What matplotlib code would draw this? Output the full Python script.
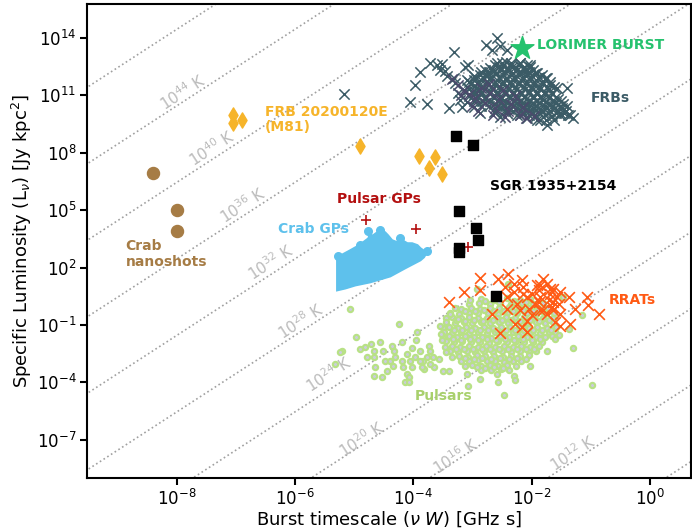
import numpy as np
import matplotlib.pyplot as plt

# all values as log10:
# burst timescale nu*W [GHz s] and specific luminosity L_nu [Jy kpc^2]
lorimer_w = [-2.16]
lorimer_L = [13.48]

nano_w = [-8.40, -8.00, -8.00]
nano_L = [6.94, 5.00, 3.92]

m81_w = [-7.06, -7.06, -6.90, -4.90, -3.91, -3.64, -3.74, -3.51]
m81_L = [9.98, 9.58, 9.72, 8.36, 7.82, 7.76, 7.19, 6.90]

sgr_w = [-3.27, -2.99, -3.22, -2.94, -2.90, -3.22, -3.22, -2.60]
sgr_L = [8.90, 8.42, 4.96, 4.07, 3.44, 3.00, 2.82, 0.51]

gp_w = [-4.80, -3.95, -3.08]
gp_L = [4.49, 4.02, 3.05]

# outline of the dense Crab giant pulse cloud, plus a few stragglers on its edge
crab_w = [-5.29, -5.29, -5.19, -5.07, -4.95, -4.85, -4.76, -4.73, -4.70, -4.63, -4.56, -4.48,
          -4.43, -4.36, -4.27, -4.19, -4.10, -4.02, -3.93, -3.88, -3.83, -3.77, -3.82, -3.88,
          -4.14, -4.39, -4.73, -4.98, -5.15]
crab_L = [0.81, 2.54, 2.70, 2.90, 3.11, 3.32, 3.53, 3.85, 3.64, 3.80, 3.90, 3.85,
          3.69, 3.43, 3.32, 3.43, 3.27, 3.27, 3.17, 3.01, 2.90, 2.80, 2.54, 2.38,
          1.96, 1.54, 1.23, 1.07, 0.91]
crab_edge_w = [-4.76, -4.56, -4.22, -3.77, -5.27, -4.90]
crab_edge_L = [3.90, 3.95, 3.53, 2.85, 2.60, 3.20]

frbs = [(-5.17, 11.06), (-4.06, 10.68), (-3.77, 10.54), (-3.98, 11.55), (-3.88, 12.20), (-3.39, 10.33),
        (-3.32, 13.25), (-3.12, 12.51), (-3.07, 12.60), (-2.77, 13.61), (-2.59, 13.99), (-2.67, 13.39),
        (-2.53, 13.56), (-2.42, 13.39), (-3.71, 12.69), (-3.60, 12.60), (-3.52, 12.65), (-3.55, 12.34),
        (-3.46, 12.25), (-3.43, 11.99), (-3.32, 11.90), (-3.29, 11.64), (-3.24, 11.12), (-3.21, 10.77),
        (-3.09, 11.81), (-2.98, 11.99), (-2.92, 11.64), (-2.87, 11.29), (-2.76, 11.99), (-2.64, 12.25),
        (-2.59, 12.69), (-2.44, 12.77), (-2.33, 12.51), (-2.19, 12.69), (-2.08, 12.34), (-2.02, 12.60),
        (-1.91, 12.16), (-1.74, 11.90), (-1.57, 11.38), (-1.40, 11.38), (-1.29, 9.81), (-1.35, 9.98),
        (-1.51, 10.07), (-1.74, 9.46), (-1.85, 9.72), (-2.08, 9.81), (-2.25, 9.98), (-2.42, 10.07),
        (-2.53, 9.89), (-2.64, 10.15), (-2.87, 10.07), (-2.98, 10.42), (-3.09, 10.68), (-3.18, 10.42),
        (-2.50, 12.70), (-2.35, 12.72), (-2.20, 12.68),
        (-2.70, 12.45), (-2.55, 12.47), (-2.42, 12.44), (-2.28, 12.46), (-2.15, 12.43), (-2.02, 12.47),
        (-2.85, 12.20), (-2.72, 12.22), (-2.58, 12.19), (-2.45, 12.21), (-2.32, 12.18), (-2.18, 12.22),
        (-2.05, 12.20), (-1.92, 12.19),
        (-2.95, 11.95), (-2.82, 11.97), (-2.68, 11.94), (-2.55, 11.96), (-2.42, 11.93), (-2.29, 11.97),
        (-2.15, 11.95), (-2.02, 11.94), (-1.88, 11.96), (-1.75, 11.93),
        (-3.05, 11.70), (-2.90, 11.72), (-2.76, 11.69), (-2.62, 11.71), (-2.49, 11.68), (-2.36, 11.72),
        (-2.22, 11.70), (-2.09, 11.69), (-1.95, 11.71), (-1.82, 11.68), (-1.68, 11.70),
        (-3.10, 11.45), (-2.96, 11.47), (-2.82, 11.44), (-2.68, 11.46), (-2.55, 11.43), (-2.42, 11.47),
        (-2.28, 11.45), (-2.15, 11.44), (-2.01, 11.46), (-1.88, 11.43), (-1.74, 11.45), (-1.62, 11.44),
        (-3.12, 11.20), (-2.98, 11.22), (-2.85, 11.19), (-2.71, 11.21), (-2.58, 11.18), (-2.45, 11.22),
        (-2.31, 11.20), (-2.18, 11.19), (-2.04, 11.21), (-1.91, 11.18), (-1.78, 11.20),
        (-3.05, 10.95), (-2.92, 10.97), (-2.78, 10.94), (-2.65, 10.96), (-2.52, 10.93), (-2.38, 10.97),
        (-2.25, 10.95), (-2.12, 10.94), (-1.98, 10.96), (-1.85, 10.93), (-1.72, 10.95), (-1.58, 10.94),
        (-2.98, 10.70), (-2.84, 10.72), (-2.70, 10.69), (-2.57, 10.71), (-2.44, 10.68), (-2.30, 10.72),
        (-2.17, 10.70), (-2.03, 10.69), (-1.90, 10.71), (-1.76, 10.68), (-1.62, 10.70), (-1.50, 10.69),
        (-2.85, 10.45), (-2.72, 10.47), (-2.58, 10.44), (-2.45, 10.46), (-2.31, 10.43), (-2.18, 10.47),
        (-2.05, 10.45), (-1.92, 10.44), (-1.78, 10.46), (-1.65, 10.43), (-1.52, 10.45), (-1.40, 10.44),
        (-2.60, 10.20), (-2.45, 10.22), (-2.32, 10.19), (-2.18, 10.21), (-2.05, 10.18), (-1.92, 10.22),
        (-1.80, 10.20), (-1.68, 10.19), (-1.55, 10.21), (-1.42, 10.18),
        (-2.20, 9.95), (-2.05, 9.97), (-1.92, 9.94), (-1.78, 9.96), (-1.65, 9.93), (-1.52, 9.97),
        (-1.38, 9.95), (-1.90, 9.70), (-1.75, 9.72), (-1.62, 9.69),
        # denser middle of the cloud
        (-2.62, 12.58), (-2.48, 12.56), (-2.35, 12.60), (-2.22, 12.57), (-2.08, 12.59),
        (-2.78, 12.33), (-2.65, 12.31), (-2.51, 12.35), (-2.38, 12.32), (-2.25, 12.34), (-2.11, 12.31),
        (-1.98, 12.33),
        (-2.88, 12.08), (-2.75, 12.06), (-2.62, 12.10), (-2.48, 12.07), (-2.35, 12.09), (-2.22, 12.06),
        (-2.08, 12.08), (-1.95, 12.10), (-1.82, 12.07),
        (-2.98, 11.83), (-2.85, 11.81), (-2.72, 11.85), (-2.58, 11.82), (-2.45, 11.84), (-2.32, 11.81),
        (-2.18, 11.83), (-2.05, 11.85), (-1.92, 11.82), (-1.78, 11.84),
        (-3.02, 11.58), (-2.89, 11.56), (-2.75, 11.60), (-2.62, 11.57), (-2.48, 11.59), (-2.35, 11.56),
        (-2.22, 11.58), (-2.08, 11.60), (-1.95, 11.57), (-1.81, 11.59), (-1.68, 11.56),
        (-3.05, 11.33), (-2.91, 11.31), (-2.78, 11.35), (-2.65, 11.32), (-2.51, 11.34), (-2.38, 11.31),
        (-2.25, 11.33), (-2.11, 11.35), (-1.98, 11.32), (-1.85, 11.34), (-1.71, 11.31),
        (-2.98, 11.08), (-2.85, 11.06), (-2.72, 11.10), (-2.58, 11.07), (-2.45, 11.09), (-2.31, 11.06),
        (-2.18, 11.08), (-2.05, 11.10), (-1.91, 11.07), (-1.78, 11.09), (-1.65, 11.06),
        (-2.92, 10.83), (-2.78, 10.81), (-2.64, 10.85), (-2.51, 10.82), (-2.37, 10.84), (-2.24, 10.81),
        (-2.10, 10.83), (-1.97, 10.85), (-1.83, 10.82), (-1.70, 10.84), (-1.56, 10.81),
        (-2.78, 10.58), (-2.64, 10.56), (-2.51, 10.60), (-2.37, 10.57), (-2.24, 10.59), (-2.11, 10.56),
        (-1.98, 10.58), (-1.85, 10.60), (-1.71, 10.57), (-1.58, 10.59), (-1.46, 10.56),
        (-2.52, 10.33), (-2.38, 10.31), (-2.25, 10.35), (-2.12, 10.32), (-1.98, 10.34), (-1.86, 10.31),
        (-1.74, 10.33), (-1.61, 10.35), (-1.48, 10.32),
        (-2.12, 10.08), (-1.98, 10.06), (-1.85, 10.10), (-1.72, 10.07), (-1.58, 10.09), (-1.45, 10.06)]

frbs_chime = [(-3.25, 11.55), (-3.15, 11.30), (-3.05, 11.05), (-2.95, 10.85), (-2.85, 11.40),
              (-2.78, 10.60), (-2.70, 11.10), (-2.62, 10.35), (-2.55, 10.80), (-2.48, 11.30),
              (-2.40, 10.20), (-2.35, 10.55), (-2.28, 10.95), (-2.20, 10.00), (-2.15, 10.40),
              (-3.35, 11.85), (-3.00, 10.45), (-2.90, 10.20), (-2.65, 9.95), (-2.45, 9.85),
              (-3.20, 11.00), (-2.10, 9.80), (-1.95, 9.90), (-2.72, 11.60)]

rrats = [(-2.87, 1.47), (-2.56, 1.42), (-2.39, 1.68), (-3.14, 0.72), (-2.87, 0.81), (-3.39, 0.20),
         (-2.67, -0.42), (-2.54, -1.43), (-2.45, 0.98), (-2.30, 1.16), (-2.30, 0.72), (-2.16, 1.33),
         (-2.15, 0.98), (-2.15, 0.63), (-2.25, 0.11), (-2.08, 0.46), (-2.05, -0.15), (-2.19, -0.24),
         (-2.28, -0.94), (-2.16, -1.11), (-2.08, -1.38), (-2.07, -0.77), (-1.99, -0.50), (-1.94, 0.11),
         (-1.88, 0.81), (-1.85, 1.07), (-1.80, 1.42), (-1.74, 1.16), (-1.68, 0.90), (-1.85, 0.46),
         (-1.86, -0.24), (-1.80, -0.24), (-1.71, 0.28), (-1.68, 0.63), (-1.66, -0.07), (-1.63, -0.24),
         (-1.57, 0.46), (-1.52, 0.72), (-1.54, 0.11), (-1.52, -0.42), (-1.60, -0.85), (-1.52, -1.03),
         (-1.37, 0.46), (-1.35, -0.94), (-1.26, -0.15), (-1.06, 0.46), (-1.04, 0.02), (-0.85, -0.42),
         (-1.91, 1.07), (-1.63, 0.90), (-1.63, 0.20), (-1.88, 0.20), (-1.74, -0.42), (-1.99, 0.63),
         (-2.42, 0.46), (-2.42, -0.15)]

pulsars = [(-2.86, 0.38), (-2.63, 0.31), (-2.41, 0.40), (-2.19, 0.33), (-2.02, 0.36),
           (-3.06, 0.10), (-2.89, 0.15), (-2.71, 0.08), (-2.53, 0.14), (-2.34, 0.09), (-2.16, 0.13),
           (-1.98, 0.10), (-1.81, 0.15),
           (-3.19, -0.14), (-3.03, -0.09), (-2.88, -0.15), (-2.71, -0.10), (-2.55, -0.13), (-2.38, -0.08),
           (-2.22, -0.14), (-2.05, -0.10), (-1.89, -0.15), (-1.72, -0.09), (-3.30, -0.12),
           (-3.38, -0.36), (-3.22, -0.41), (-3.06, -0.35), (-2.90, -0.40), (-2.74, -0.37), (-2.57, -0.42),
           (-2.41, -0.35), (-2.25, -0.39), (-2.08, -0.36), (-1.92, -0.41), (-1.75, -0.37), (-1.62, -0.40),
           (-3.34, -0.60), (-3.20, -0.65), (-3.05, -0.59), (-2.90, -0.64), (-2.75, -0.61), (-2.59, -0.66),
           (-2.43, -0.60), (-2.28, -0.63), (-2.12, -0.59), (-1.96, -0.65), (-1.80, -0.61), (-1.64, -0.64),
           (-3.45, -0.66),
           (-3.44, -0.86), (-3.30, -0.91), (-3.15, -0.85), (-3.00, -0.90), (-2.86, -0.87), (-2.70, -0.92),
           (-2.55, -0.85), (-2.40, -0.89), (-2.24, -0.86), (-2.09, -0.91), (-1.93, -0.87), (-1.78, -0.90),
           (-1.63, -0.86),
           (-3.39, -1.10), (-3.25, -1.15), (-3.11, -1.09), (-2.96, -1.14), (-2.81, -1.11), (-2.66, -1.16),
           (-2.51, -1.10), (-2.36, -1.13), (-2.21, -1.09), (-2.05, -1.15), (-1.90, -1.11), (-1.74, -1.14),
           (-1.59, -1.10), (-3.49, -1.16),
           (-3.48, -1.36), (-3.35, -1.41), (-3.20, -1.35), (-3.05, -1.40), (-2.91, -1.37), (-2.76, -1.42),
           (-2.61, -1.36), (-2.46, -1.39), (-2.31, -1.35), (-2.16, -1.41), (-2.01, -1.37), (-1.86, -1.40),
           (-1.71, -1.36), (-1.60, -1.39),
           (-3.40, -1.60), (-3.26, -1.65), (-3.12, -1.59), (-2.97, -1.64), (-2.83, -1.61), (-2.68, -1.66),
           (-2.53, -1.60), (-2.38, -1.63), (-2.23, -1.59), (-2.08, -1.65), (-1.93, -1.61), (-1.78, -1.64),
           (-1.66, -1.60), (-3.50, -1.66),
           (-3.45, -1.86), (-3.31, -1.91), (-3.17, -1.85), (-3.02, -1.90), (-2.87, -1.87), (-2.72, -1.92),
           (-2.57, -1.86), (-2.42, -1.89), (-2.27, -1.85), (-2.12, -1.91), (-1.97, -1.87), (-1.82, -1.90),
           (-3.35, -2.10), (-3.21, -2.15), (-3.06, -2.09), (-2.91, -2.14), (-2.77, -2.11), (-2.62, -2.16),
           (-2.47, -2.10), (-2.32, -2.13), (-2.17, -2.09), (-2.02, -2.15), (-1.87, -2.11), (-3.46, -2.16),
           (-3.38, -2.36), (-3.24, -2.41), (-3.09, -2.35), (-2.95, -2.40), (-2.80, -2.37), (-2.65, -2.42),
           (-2.50, -2.36), (-2.35, -2.39), (-2.20, -2.35), (-2.05, -2.41), (-1.92, -2.37),
           (-3.23, -2.60), (-3.08, -2.65), (-2.93, -2.59), (-2.79, -2.64), (-2.64, -2.61), (-2.49, -2.66),
           (-2.34, -2.60), (-2.19, -2.63), (-2.04, -2.59), (-3.34, -2.66),
           (-3.20, -2.86), (-3.05, -2.91), (-2.90, -2.85), (-2.76, -2.90), (-2.61, -2.87), (-2.46, -2.92),
           (-2.31, -2.86), (-2.17, -2.89),
           (-3.01, -3.10), (-2.86, -3.15), (-2.71, -3.09), (-2.56, -3.14), (-2.41, -3.11), (-2.27, -3.13),
           (-3.12, -3.15),
           (-2.85, -3.33), (-2.68, -3.38), (-2.52, -3.32), (-2.38, -3.36),
           # in-between fill of the dense core
           (-2.78, 0.25), (-2.55, 0.22), (-2.30, 0.24), (-2.10, 0.22),
           (-3.12, -0.25), (-2.96, -0.27), (-2.80, -0.24), (-2.63, -0.28), (-2.47, -0.25), (-2.31, -0.26),
           (-2.15, -0.24), (-1.98, -0.28), (-1.83, -0.25),
           (-3.27, -0.75), (-3.12, -0.77), (-2.97, -0.74), (-2.82, -0.78), (-2.66, -0.75), (-2.50, -0.76),
           (-2.35, -0.74), (-2.19, -0.78), (-2.03, -0.75), (-1.87, -0.77), (-1.71, -0.74),
           (-3.32, -1.25), (-3.18, -1.27), (-3.03, -1.24), (-2.88, -1.28), (-2.73, -1.25), (-2.58, -1.26),
           (-2.43, -1.24), (-2.28, -1.28), (-2.13, -1.25), (-1.97, -1.27), (-1.82, -1.24), (-1.67, -1.26),
           (-3.33, -1.75), (-3.19, -1.77), (-3.04, -1.74), (-2.90, -1.78), (-2.75, -1.75), (-2.60, -1.76),
           (-2.45, -1.74), (-2.30, -1.78), (-2.15, -1.75), (-2.00, -1.77), (-1.85, -1.74),
           (-3.28, -2.25), (-3.14, -2.27), (-2.99, -2.24), (-2.84, -2.28), (-2.70, -2.25), (-2.55, -2.26),
           (-2.40, -2.24), (-2.25, -2.28), (-2.10, -2.25), (-1.96, -2.27),
           (-3.12, -2.75), (-2.98, -2.77), (-2.83, -2.74), (-2.68, -2.78), (-2.53, -2.75), (-2.38, -2.76),
           (-2.24, -2.74), (-2.10, -2.77),
           (-2.93, -3.22), (-2.78, -3.24), (-2.63, -3.21), (-2.48, -3.25),
           # sparse tail and outliers
           (-5.07, -0.15), (-4.24, -0.94), (-4.97, -1.64), (-5.21, -2.37), (-4.81, -2.13), (-4.71, -1.99),
           (-4.56, -1.88), (-4.67, -2.37), (-4.67, -2.69), (-4.65, -3.18), (-4.67, -3.65), (-4.53, -3.70),
           (-4.48, -2.90), (-4.45, -3.39), (-4.36, -2.08), (-4.32, -2.34), (-4.31, -2.69), (-4.34, -3.12),
           (-4.19, -1.87), (-4.19, -2.86), (-4.17, -3.21), (-4.11, -3.56), (-4.08, -3.74), (-4.14, -4.00),
           (-4.08, -4.00), (-4.05, -2.86), (-4.02, -3.18), (-3.97, -2.69), (-3.95, -1.81), (-3.94, -1.38),
           (-3.88, -2.37), (-3.83, -2.86), (-3.82, -3.30), (-3.77, -2.69), (-3.74, -2.08), (-3.71, -2.34),
           (-3.66, -2.69), (-3.65, -3.21), (-3.57, -2.77), (-3.55, -1.03), (-3.53, -1.46), (-3.52, -1.81),
           (-3.44, -2.42), (-3.49, -3.39), (-3.40, -3.39), (-3.38, -0.42), (-3.24, -0.68), (-3.09, -3.56),
           (-3.08, -4.17), (-3.04, 0.28), (-2.93, 0.90), (-2.88, -3.82), (-2.59, -3.56), (-2.56, -4.00),
           (-2.46, -4.64), (-2.39, 1.16), (-2.30, -3.65), (-2.28, -3.87), (-2.02, -3.12), (-1.74, -2.34),
           (-1.60, -1.73), (-1.54, -1.55), (-1.46, 0.46), (-1.37, -1.20), (-1.30, -2.20), (-1.15, -0.50),
           (-0.98, -4.14), (-4.11, -2.51), (-4.02, -2.20), (-3.88, -2.86), (-4.39, -2.86), (-4.52, -2.34),
           (-4.79, -2.69), (-4.90, -2.25), (-3.86, -3.21), (-3.71, -3.04), (-5.24, -2.39), (-5.32, -3.02)]

# brightness temperature lines, log10(T_B / K)
tb_exps = [48, 44, 40, 36, 32, 28, 24, 20, 16, 12, 8]
tb_labels = [44, 40, 36, 32, 28, 24, 20, 16, 12]
tb_label_w = [-7.91, -7.42, -6.89, -6.42, -5.91, -5.44, -4.88, -3.29, -1.31]
tb_label_L = [11.19, 8.25, 5.26, 2.28, -0.81, -3.59, -6.95, -7.84, -7.73]

# T_B = L / (2 k (nu W)^2), L in Jy kpc^2 and nu W in GHz s
kpc = 3.0857e19
tb_const = 1e-26 * kpc**2 / (2 * 1.380649e-23 * 1e18)


def p(v):
    return 10.0 ** np.asarray(v)


fig = plt.figure(figsize=(6.92, 5.29), dpi=100)
ax = fig.add_axes([87 / 692, 51 / 529, 604 / 692, 474 / 529])
ax.set_xscale('log')
ax.set_yscale('log')
ax.set_xlim(3e-10, 5)
ax.set_ylim(1e-9, 6e15)

w_grid = np.logspace(-11, 2, 20)
for e in tb_exps:
    ax.plot(w_grid, 10.0**e * w_grid**2 / tb_const, ls=':', color='#a0a0a0', lw=1.2, zorder=1)

# angle of the T_B lines on screen
a = ax.transData.transform((1e-6, 1.0))
b = ax.transData.transform((1e-5, 100.0))
ang = np.degrees(np.arctan2(b[1] - a[1], b[0] - a[0]))
for e, lw_, lL in zip(tb_labels, tb_label_w, tb_label_L):
    ax.text(p(lw_), p(lL), r'$10^{%d}$ K' % e, rotation=ang, rotation_mode='anchor',
            ha='center', va='center', color='#bbbbbb', fontsize=11, zorder=2)

pw, pL = np.array(pulsars).T
ax.scatter(p(pw), p(pL), s=14, facecolor='#cbcbe0', edgecolor='#b8e186', linewidths=1.6, zorder=3)

ax.fill(p(crab_w), p(crab_L), color='#5ec1ec', lw=1.5, ec='#5ec1ec', zorder=3)
ax.scatter(p(crab_edge_w), p(crab_edge_L), s=30, color='#5ec1ec', zorder=3)

rw, rL = np.array(rrats).T
ax.scatter(p(rw), p(rL), marker='x', s=60, color='#ff5a14', linewidths=1.2, zorder=4)

fw, fL = np.array(frbs).T
ax.scatter(p(fw), p(fL), marker='x', s=55, color='#3b5b66', linewidths=1.1, zorder=4)
cw, cL = np.array(frbs_chime).T
ax.scatter(p(cw), p(cL), marker='x', s=55, color='#4b4a6c', linewidths=1.1, zorder=4)

ax.scatter(p(gp_w), p(gp_L), marker='+', s=60, color='#b30f0f', linewidths=1.2, zorder=5)
ax.scatter(p(sgr_w), p(sgr_L), marker='s', s=50, color='black', zorder=5)
ax.scatter(p(m81_w), p(m81_L), marker='d', s=60, color='#f6b42a', zorder=5)
ax.scatter(p(nano_w), p(nano_L), marker='o', s=75, color='#a67c45', zorder=5)
ax.scatter(p(lorimer_w), p(lorimer_L), marker='*', s=300, color='#25c26e', zorder=6)

kw = dict(fontsize=10, fontweight='bold', ha='left', va='center', zorder=7)
ax.text(p(-1.90), p(13.65), 'LORIMER BURST', color='#25c26e', **kw)
ax.text(p(-0.99), p(10.87), 'FRBs', color='#3b5b66', **kw)
ax.text(p(-6.51), p(9.72), 'FRB 20200120E\n(M81)', color='#f6b42a', linespacing=1.1, **kw)
ax.text(p(-5.29), p(5.58), 'Pulsar GPs', color='#b30f0f', **kw)
ax.text(p(-2.70), p(6.26), 'SGR 1935+2154', color='black', **kw)
ax.text(p(-6.29), p(4.00), 'Crab GPs', color='#5ec1ec', **kw)
ax.text(p(-8.87), p(2.69), 'Crab\nnanoshots', color='#a67c45', **kw)
ax.text(p(-0.685), p(0.28), 'RRATs', color='#ff5a14', **kw)
ax.text(p(-3.98), p(-4.69), 'Pulsars', color='#a8d06c', **kw)

ax.set_xticks([1e-8, 1e-6, 1e-4, 1e-2, 1e0])
ax.set_yticks([1e-7, 1e-4, 1e-1, 1e2, 1e5, 1e8, 1e11, 1e14])
ax.minorticks_off()
ax.tick_params(labelsize=12, width=1.5, length=5, pad=2.5)
for s in ax.spines.values():
    s.set_linewidth(1.5)
ax.set_xlabel(r'Burst timescale ($\nu$ $W$) [GHz s]', fontsize=13, labelpad=1)
ax.set_ylabel(r'Specific Luminosity (L$_{\nu}$) [Jy kpc$^{2}$]', fontsize=13, labelpad=2)

fig.savefig('out.png', dpi=100)
